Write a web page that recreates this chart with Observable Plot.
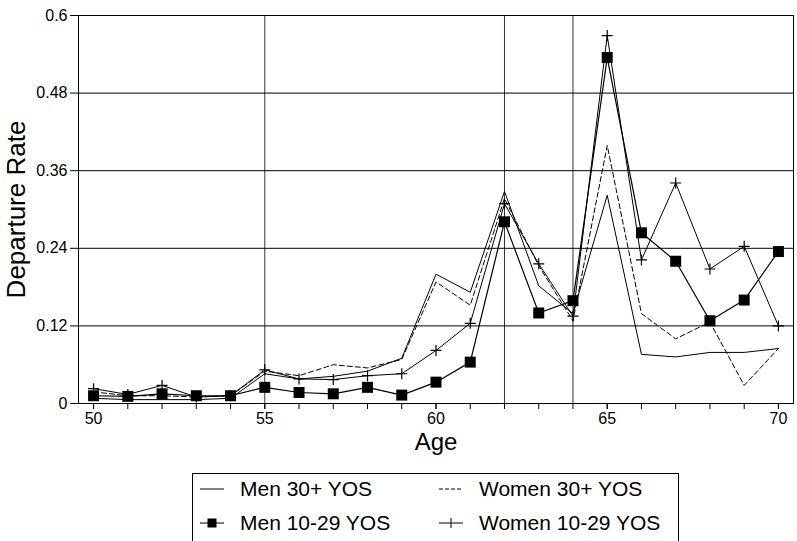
<!DOCTYPE html>
<html>
<head>
<meta charset="utf-8">
<script src="https://cdn.jsdelivr.net/npm/d3@7"></script>
<script src="https://cdn.jsdelivr.net/npm/@observablehq/plot@0.6"></script>
<style>
  body { margin: 0; background: #fff; font-family: "Liberation Sans", Arial, sans-serif; }
  #chart { width: 797px; height: 460px; }
  .legend { position: absolute; left: 192px; top: 473px; width: 487px; height: 80px;
    border: 1px solid #000; box-sizing: border-box; font-size: 21px; color: #000; }
  .item { position: absolute; display: flex; align-items: center; height: 30px; }
  .item svg { margin-right: 16px; }
</style>
</head>
<body>
<div id="chart"></div>
<div class="legend" id="legend"></div>
<script>
const ages = [50,51,52,53,54,55,56,57,58,59,60,61,62,63,64,65,66,67,68,69,70];
const men30 = [0.008,0.006,0.006,0.006,0.008,0.046,0.038,0.042,0.050,0.070,0.200,0.172,0.328,0.182,0.139,0.322,0.076,0.072,0.079,0.079,0.085];
const women30 = [0.018,0.012,0.012,0.010,0.012,0.050,0.043,0.060,0.055,0.068,0.188,0.152,0.317,0.213,0.128,0.399,0.139,0.100,0.126,0.028,0.085];
const men1029 = [0.012,0.011,0.015,0.012,0.012,0.025,0.017,0.015,0.025,0.013,0.033,0.064,0.281,0.140,0.159,0.535,0.264,0.220,0.128,0.160,0.235];
const women1029 = [0.023,0.014,0.028,0.010,0.012,0.052,0.038,0.037,0.043,0.046,0.082,0.124,0.309,0.216,0.135,0.569,0.222,0.341,0.208,0.243,0.120];
const seriesNames = ["Men 30+ YOS", "Women 30+ YOS", "Men 10-29 YOS", "Women 10-29 YOS"];
const yTicks = [0, 0.12, 0.24, 0.36, 0.48, 0.6];
const xTickLabels = [50, 55, 60, 65, 70];
const vLines = [55, 62, 64];

const rows = (vals) => ages.map((a, i) => ({age: a, v: vals[i]}));

const plusSymbol = {
  draw(ctx, size) {
    const r = Math.sqrt(size / Math.PI);
    ctx.moveTo(-r, 0); ctx.lineTo(r, 0);
    ctx.moveTo(0, -r); ctx.lineTo(0, r);
  }
};

const chart = Plot.plot({
  width: 797,
  height: 460,
  marginLeft: 78,
  marginRight: 4,
  marginTop: 15,
  marginBottom: 57,
  style: {fontFamily: "'Liberation Sans', Arial, sans-serif", fontSize: "16px", color: "#000", background: "#fff"},
  x: {domain: [49.56, 70.44]},
  y: {domain: [0, 0.6]},
  marks: [
    Plot.gridY(yTicks, {stroke: "#000", strokeOpacity: 1, strokeWidth: 1}),
    Plot.ruleX(vLines, {stroke: "#000", strokeWidth: 0.8}),
    Plot.frame({stroke: "#000"}),
    Plot.axisY({ticks: yTicks, tickSize: 8, tickPadding: 3, fontSize: 16,
      tickFormat: d => d === 0 ? "0" : String(+d.toFixed(2)), label: null}),
    Plot.axisX({ticks: xTickLabels, tickSize: 6, tickPadding: 3, fontSize: 16, label: null}),
    Plot.axisX({ticks: ages, tickSize: 6, tickFormat: () => "", label: null}),
    Plot.text(["Departure Rate"], {frameAnchor: "left", textAnchor: "middle", dx: -62, rotate: -90, fontSize: 26}),
    Plot.text(["Age"], {frameAnchor: "bottom", dy: 46, fontSize: 24}),
    Plot.line(rows(men30), {x: "age", y: "v", stroke: "#000", strokeWidth: 1}),
    Plot.line(rows(women30), {x: "age", y: "v", stroke: "#000", strokeWidth: 1, strokeDasharray: "5,3"}),
    Plot.line(rows(men1029), {x: "age", y: "v", stroke: "#000", strokeWidth: 1.2}),
    Plot.line(rows(women1029), {x: "age", y: "v", stroke: "#000", strokeWidth: 1}),
    Plot.dot(rows(men1029), {x: "age", y: "v", symbol: "square", r: 6.2, fill: "#000"}),
    Plot.dot(rows(women1029), {x: "age", y: "v", symbol: plusSymbol, r: 5.5, stroke: "#000", strokeWidth: 1.2, fill: "none"})
  ]
});
document.getElementById("chart").appendChild(chart);

// Legend
const legend = document.getElementById("legend");
const pos = [[7, 0], [246, 0], [7, 34], [246, 34]];
const sample = (i) => {
  const w = 24;
  let s = `<svg width="${w}" height="14" viewBox="0 0 ${w} 14">`;
  if (i === 1) s += `<line x1="0" y1="7" x2="${w}" y2="7" stroke="#000" stroke-dasharray="4,2"/>`;
  else s += `<line x1="0" y1="7" x2="${w}" y2="7" stroke="#000"/>`;
  if (i === 2) s += `<rect x="${w/2-4.5}" y="2.5" width="9" height="9" fill="#000"/>`;
  if (i === 3) s += `<line x1="${w/2}" y1="2" x2="${w/2}" y2="12" stroke="#000"/>`;
  return s + `</svg>`;
};
seriesNames.forEach((name, i) => {
  const d = document.createElement("div");
  d.className = "item";
  d.style.left = pos[i][0] + "px";
  d.style.top = pos[i][1] + "px";
  d.innerHTML = sample(i) + `<span>${name}</span>`;
  legend.appendChild(d);
});
</script>
</body>
</html>
